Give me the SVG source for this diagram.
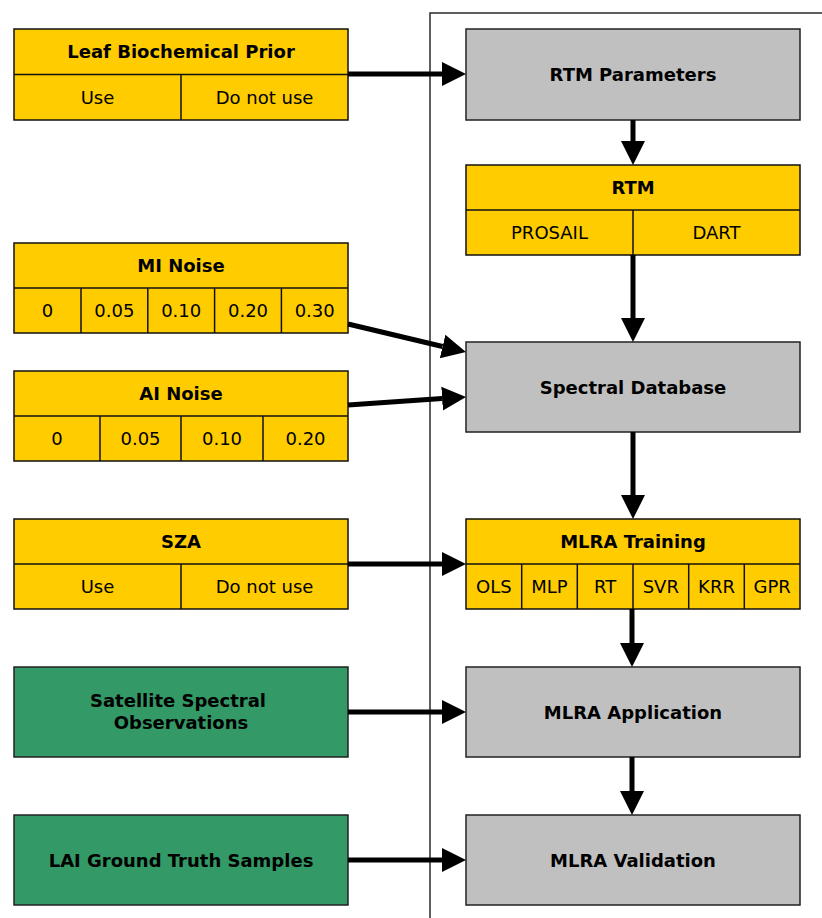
<svg xmlns="http://www.w3.org/2000/svg" width="822" height="918" viewBox="0 0 822 918">
<style>
  .y{fill:#FFCC00;stroke:#111;stroke-width:1.5}
  .g{fill:#C0C0C0;stroke:#222;stroke-width:1.5}
  .gr{fill:#339966;stroke:#222;stroke-width:1.5}
  .d{stroke:#111;stroke-width:1.5}
  .t{font-family:"DejaVu Sans",sans-serif;font-size:18px;font-weight:bold;text-anchor:middle;fill:#000}
  .s{font-family:"DejaVu Sans",sans-serif;font-size:18px;text-anchor:middle;fill:#000}
  .c{stroke:#000;stroke-width:5;fill:none}
</style>
<defs>
  <marker id="ah" markerUnits="userSpaceOnUse" markerWidth="25" markerHeight="26" refX="0" refY="12.5" orient="auto" viewBox="0 0 25 26">
    <polygon points="0,0.5 24,12.5 0,24.5" fill="#000"/>
  </marker>
</defs>
<rect x="430" y="13" width="400" height="920" fill="none" stroke="#2a2a2a" stroke-width="1.5"/>

<g id="leaf">
  <rect class="y" x="14" y="29" width="334" height="91"/>
  <line class="d" x1="14" y1="74.5" x2="348" y2="74.5"/>
  <line class="d" x1="181" y1="74.5" x2="181" y2="120"/>
  <text class="t" x="181" y="58.3">Leaf Biochemical Prior</text>
  <text class="s" x="97.5" y="103.8">Use</text>
  <text class="s" x="264.5" y="103.8">Do not use</text>
</g>
<g id="mi">
  <rect class="y" x="14" y="243" width="334" height="90"/>
  <line class="d" x1="14" y1="288" x2="348" y2="288"/>
  <line class="d" x1="81" y1="288" x2="81" y2="333"/>
  <line class="d" x1="147.8" y1="288" x2="147.8" y2="333"/>
  <line class="d" x1="214.6" y1="288" x2="214.6" y2="333"/>
  <line class="d" x1="281.4" y1="288" x2="281.4" y2="333"/>
  <text class="t" x="181" y="272">MI Noise</text>
  <text class="s" x="47.5" y="317">0</text>
  <text class="s" x="114.4" y="317">0.05</text>
  <text class="s" x="181.2" y="317">0.10</text>
  <text class="s" x="248" y="317">0.20</text>
  <text class="s" x="314.7" y="317">0.30</text>
</g>
<g id="ai">
  <rect class="y" x="14" y="371" width="334" height="90"/>
  <line class="d" x1="14" y1="416" x2="348" y2="416"/>
  <line class="d" x1="100" y1="416" x2="100" y2="461"/>
  <line class="d" x1="181" y1="416" x2="181" y2="461"/>
  <line class="d" x1="263" y1="416" x2="263" y2="461"/>
  <text class="t" x="181" y="400">AI Noise</text>
  <text class="s" x="57" y="445">0</text>
  <text class="s" x="140.5" y="445">0.05</text>
  <text class="s" x="222" y="445">0.10</text>
  <text class="s" x="305.5" y="445">0.20</text>
</g>
<g id="sza">
  <rect class="y" x="14" y="519" width="334" height="90"/>
  <line class="d" x1="14" y1="564" x2="348" y2="564"/>
  <line class="d" x1="181" y1="564" x2="181" y2="609"/>
  <text class="t" x="181" y="548">SZA</text>
  <text class="s" x="97.5" y="593">Use</text>
  <text class="s" x="264.5" y="593">Do not use</text>
</g>
<g id="satellite">
  <rect class="gr" x="14" y="667" width="334" height="90"/>
  <text class="t" x="178" y="707">Satellite Spectral</text>
  <text class="t" x="181" y="729">Observations</text>
</g>
<g id="lai">
  <rect class="gr" x="14" y="815" width="334" height="90"/>
  <text class="t" x="181" y="866.5">LAI Ground Truth Samples</text>
</g>

<g id="rtmparams">
  <rect class="g" x="466" y="29" width="334" height="91"/>
  <text class="t" x="633" y="81">RTM Parameters</text>
</g>
<g id="rtm">
  <rect class="y" x="466" y="165" width="334" height="90"/>
  <line class="d" x1="466" y1="210" x2="800" y2="210"/>
  <line class="d" x1="633" y1="210" x2="633" y2="255"/>
  <text class="t" x="633" y="194">RTM</text>
  <text class="s" x="549.5" y="239">PROSAIL</text>
  <text class="s" x="716.5" y="239">DART</text>
</g>
<g id="spectral">
  <rect class="g" x="466" y="342" width="334" height="90"/>
  <text class="t" x="633" y="393.5">Spectral Database</text>
</g>
<g id="training">
  <rect class="y" x="466" y="519" width="334" height="90"/>
  <line class="d" x1="466" y1="564" x2="800" y2="564"/>
  <line class="d" x1="521.7" y1="564" x2="521.7" y2="609"/>
  <line class="d" x1="577.3" y1="564" x2="577.3" y2="609"/>
  <line class="d" x1="633" y1="564" x2="633" y2="609"/>
  <line class="d" x1="688.7" y1="564" x2="688.7" y2="609"/>
  <line class="d" x1="744.3" y1="564" x2="744.3" y2="609"/>
  <text class="t" x="633" y="548">MLRA Training</text>
  <text class="s" x="493.8" y="593">OLS</text>
  <text class="s" x="549.5" y="593">MLP</text>
  <text class="s" x="605.2" y="593">RT</text>
  <text class="s" x="660.8" y="593">SVR</text>
  <text class="s" x="716.5" y="593">KRR</text>
  <text class="s" x="772.2" y="593">GPR</text>
</g>
<g id="application">
  <rect class="g" x="466" y="667" width="334" height="90"/>
  <text class="t" x="633" y="718.5">MLRA Application</text>
</g>
<g id="validation">
  <rect class="g" x="466" y="815" width="334" height="90"/>
  <text class="t" x="633" y="866.5">MLRA Validation</text>
</g>

<g id="connectors">
  <line class="c" x1="348" y1="74" x2="442" y2="74" marker-end="url(#ah)"/>
  <line class="c" x1="633" y1="120" x2="633" y2="141" marker-end="url(#ah)"/>
  <line class="c" x1="633" y1="255" x2="633" y2="318" marker-end="url(#ah)"/>
  <line class="c" x1="348" y1="324" x2="442.6" y2="346.5" marker-end="url(#ah)"/>
  <line class="c" x1="348" y1="405" x2="442.1" y2="398.6" marker-end="url(#ah)"/>
  <line class="c" x1="633" y1="432" x2="633" y2="495" marker-end="url(#ah)"/>
  <line class="c" x1="348" y1="564" x2="442" y2="564" marker-end="url(#ah)"/>
  <line class="c" x1="632" y1="609" x2="632" y2="643" marker-end="url(#ah)"/>
  <line class="c" x1="348" y1="712" x2="442" y2="712" marker-end="url(#ah)"/>
  <line class="c" x1="632" y1="757" x2="632" y2="791" marker-end="url(#ah)"/>
  <line class="c" x1="348" y1="860" x2="442" y2="860" marker-end="url(#ah)"/>
</g>
</svg>
